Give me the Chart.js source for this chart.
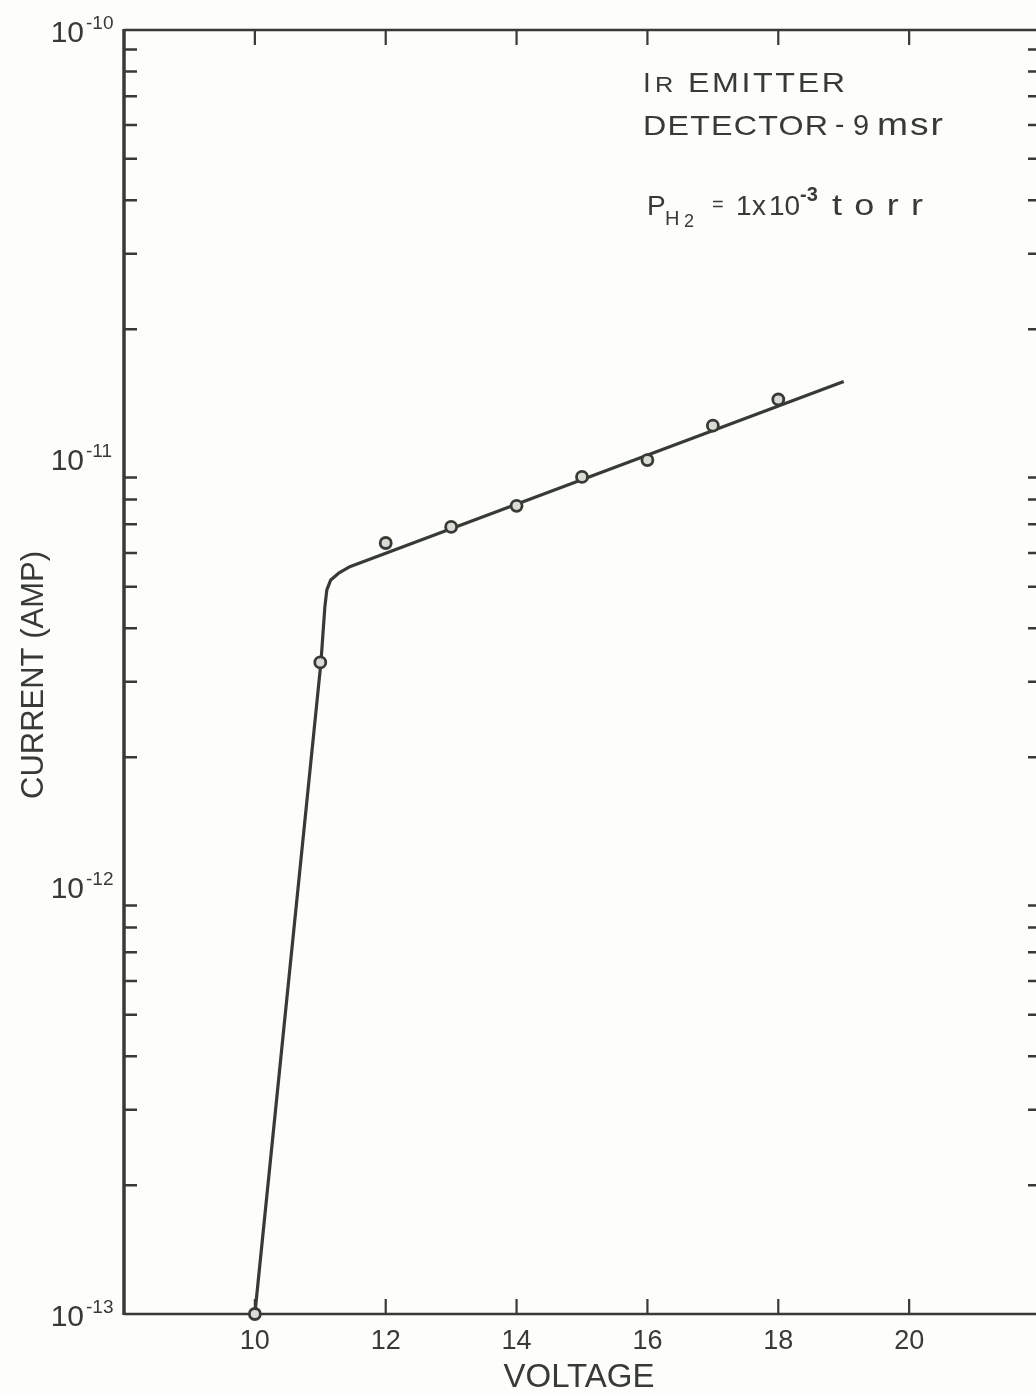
<!DOCTYPE html>
<html>
<head>
<meta charset="utf-8">
<script src="https://cdn.jsdelivr.net/npm/chart.js@4.4.1/dist/chart.umd.min.js"></script>
<style>
  html, body { margin: 0; padding: 0; background: #fdfdfb; overflow: hidden; }
  #wrap { width: 1050px; height: 1395px; }
</style>
</head>
<body>
<div id="wrap"><canvas id="ivChart" width="1050" height="1395"></canvas></div>
<script>
// measured points (voltage in V, current in A)
const voltage = [10, 11, 12, 13, 14, 15, 16, 17, 18];
const current = [1.0e-13, 3.33e-12, 6.33e-12, 6.9e-12, 7.73e-12, 9.03e-12, 9.89e-12, 1.19e-11, 1.37e-11];

// hand-drawn fit curve
const fitVoltage = [10, 11.01, 11.07, 11.1, 11.16, 11.28, 11.44, 19];
const fitCurrent = [1.0e-13, 3.33e-12, 4.49e-12, 4.92e-12, 5.19e-12, 5.38e-12, 5.56e-12, 1.51e-11];

const xTicks = [10, 12, 14, 16, 18, 20];
const yDecades = [-13, -12, -11, -10];
const yMinors = [2, 3, 4, 5, 6, 7, 8, 9];

const ink = "#363b34";
const FONT = "'Liberation Sans', Arial, sans-serif";

function pairs(xs, ys) {
  return xs.map((x, i) => ({ x: x, y: ys[i] }));
}

function txt(ctx, str, x, y, size, weight) {
  ctx.font = (weight || "") + " " + size + "px " + FONT;
  ctx.letterSpacing = "0px";
  ctx.fillText(str, x, y);
}

// widen a word to a given width: stretch glyphs by sx, rest goes to letter spacing
function fitTxt(ctx, str, x, y, size, width, sx) {
  sx = sx || 1.15;
  ctx.save();
  ctx.font = size + "px " + FONT;
  ctx.letterSpacing = "0px";
  ctx.textAlign = "left";
  const w = ctx.measureText(str).width * sx;
  const sp = str.length > 1 ? Math.max(0, (width - w) / (str.length - 1)) / sx : 0;
  ctx.letterSpacing = sp.toFixed(2) + "px";
  ctx.translate(x, y);
  ctx.scale(sx, 1);
  ctx.fillText(str, 0, 0);
  ctx.restore();
}

const framePlugin = {
  id: "frame",
  beforeDatasetsDraw(chart) {
    const ctx = chart.ctx;
    const a = chart.chartArea;
    const xs = chart.scales.x;
    const ys = chart.scales.y;
    ctx.save();
    ctx.strokeStyle = ink;
    ctx.lineCap = "butt";

    // box
    ctx.lineWidth = 2.5;
    ctx.beginPath();
    ctx.moveTo(a.left, a.top); ctx.lineTo(a.right, a.top);
    ctx.moveTo(a.left, a.bottom); ctx.lineTo(a.right, a.bottom);
    ctx.moveTo(a.right, a.top); ctx.lineTo(a.right, a.bottom);
    ctx.stroke();
    ctx.lineWidth = 3.5;
    ctx.beginPath();
    ctx.moveTo(a.left, a.top - 1); ctx.lineTo(a.left, a.bottom + 1);
    ctx.stroke();

    // x ticks, inward on top and bottom
    ctx.lineWidth = 2.2;
    ctx.beginPath();
    xTicks.forEach(v => {
      const px = xs.getPixelForValue(v);
      ctx.moveTo(px, a.top); ctx.lineTo(px, a.top + 15);
      ctx.moveTo(px, a.bottom); ctx.lineTo(px, a.bottom - 15);
    });
    ctx.stroke();

    // y ticks (log minors), inward on left and right
    ctx.lineWidth = 2.5;
    ctx.beginPath();
    yDecades.slice(0, -1).forEach(d => {
      yMinors.forEach(m => {
        const py = ys.getPixelForValue(m * Math.pow(10, d));
        ctx.moveTo(a.left, py); ctx.lineTo(a.left + 13, py);
        ctx.moveTo(a.right - 12, py); ctx.lineTo(a.right, py);
      });
    });
    ctx.stroke();
    ctx.restore();
  },
  afterDraw(chart) {
    const ctx = chart.ctx;
    const xs = chart.scales.x;
    const ys = chart.scales.y;
    ctx.save();
    ctx.fillStyle = ink;

    // y tick labels 10^n
    yDecades.forEach(d => {
      const py = ys.getPixelForValue(Math.pow(10, d));
      ctx.textAlign = "right";
      txt(ctx, "10", 84, py + 12, 30);
      ctx.textAlign = "left";
      txt(ctx, String(d), 86, py - 1, 19);
    });

    // x tick labels
    ctx.textAlign = "center";
    xTicks.forEach(v => {
      txt(ctx, String(v), xs.getPixelForValue(v), 1349, 27);
    });

    // axis titles
    txt(ctx, "VOLTAGE", 579, 1387, 33);
    ctx.save();
    ctx.translate(43, 675);
    ctx.rotate(-Math.PI / 2);
    txt(ctx, "CURRENT (AMP)", 0, 0, 31);
    ctx.restore();

    // annotation
    ctx.textAlign = "left";
    txt(ctx, "I", 643, 92, 28);
    fitTxt(ctx, "R", 655, 92, 22, 17);
    fitTxt(ctx, "EMITTER", 688, 92, 28, 157);
    fitTxt(ctx, "DETECTOR", 643, 135, 28, 185);
    txt(ctx, "-", 835, 133, 28);
    txt(ctx, "9", 853, 135, 29);
    fitTxt(ctx, "msr", 877, 135, 31, 66, 1.2);

    txt(ctx, "P", 647, 215, 28);
    txt(ctx, "H", 665, 225, 20);
    txt(ctx, "2", 684, 227, 18);
    txt(ctx, "=", 712, 211, 20);
    txt(ctx, "1", 736, 215, 28);
    txt(ctx, "x", 752, 215, 28);
    fitTxt(ctx, "10", 769, 215, 28, 29, 1.0);
    txt(ctx, "-3", 800, 201, 20, "bold");
    fitTxt(ctx, "torr", 832, 215, 30, 91, 1.2);
    ctx.restore();
  }
};

new Chart(document.getElementById("ivChart"), {
  type: "scatter",
  data: {
    datasets: [
      {
        label: "measured",
        data: pairs(voltage, current),
        showLine: false,
        pointStyle: "circle",
        pointRadius: 5.5,
        pointBorderWidth: 2.8,
        pointBorderColor: ink,
        pointBackgroundColor: "#d9dbd4",
        clip: false,
        order: 0
      },
      {
        label: "fit",
        data: pairs(fitVoltage, fitCurrent),
        showLine: true,
        borderColor: ink,
        borderWidth: 3.2,
        pointRadius: 0,
        tension: 0,
        borderJoinStyle: "round",
        clip: false,
        order: 1
      }
    ]
  },
  options: {
    responsive: false,
    animation: false,
    devicePixelRatio: 1,
    layout: { autoPadding: false, padding: { left: 124, top: 30, right: 10, bottom: 81 } },
    plugins: {
      legend: { display: false },
      tooltip: { enabled: false }
    },
    scales: {
      x: { type: "linear", min: 8, max: 22, display: false },
      y: { type: "logarithmic", min: 1e-13, max: 1e-10, display: false }
    }
  },
  plugins: [framePlugin]
});
</script>
</body>
</html>
